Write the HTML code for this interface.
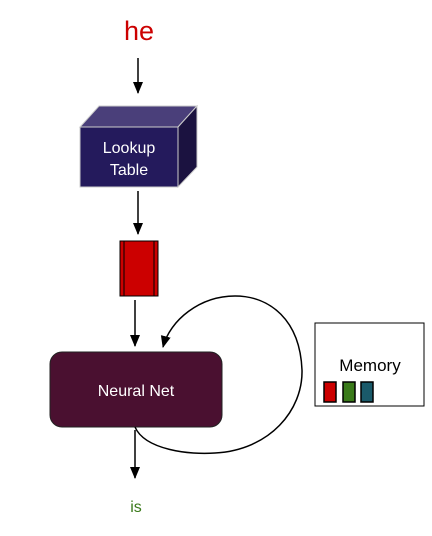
<!DOCTYPE html>
<html><head><style>
body{margin:0;width:432px;height:531px;background:#fff;overflow:hidden}
</style></head><body>
<svg width="432" height="531" xmlns="http://www.w3.org/2000/svg" font-family="Liberation Sans, sans-serif">
<defs><marker id="a" markerWidth="12" markerHeight="12" refX="11" refY="5" orient="auto" markerUnits="userSpaceOnUse"><path d="M0,0 L12,5 L0,10 Z" fill="#000"/></marker></defs>
<text x="139" y="40" font-size="27" fill="#cc0000" text-anchor="middle">he</text>
<line x1="138" y1="58" x2="138" y2="93" stroke="#000" stroke-width="1.5" marker-end="url(#a)"/>
<polygon points="80,127 99,106 197,106 178,127" fill="#4a3f7a" stroke="#ccc" stroke-width="1"/>
<polygon points="178,127 197,106 197,167 178,187" fill="#1b1240" stroke="#ccc" stroke-width="1"/>
<rect x="80" y="127" width="98" height="60" fill="#241a5c" stroke="#ccc" stroke-width="1"/>
<text x="129" y="153" font-size="16" fill="#fff" text-anchor="middle">Lookup</text>
<text x="129" y="175" font-size="16" fill="#fff" text-anchor="middle">Table</text>
<line x1="138" y1="191" x2="138" y2="234" stroke="#000" stroke-width="1.5" marker-end="url(#a)"/>
<rect x="120" y="241" width="38" height="55" fill="#cc0000" stroke="#000" stroke-width="1"/>
<line x1="124" y1="241" x2="124" y2="296" stroke="#000"/>
<line x1="154" y1="241" x2="154" y2="296" stroke="#000"/>
<line x1="135" y1="300" x2="135" y2="346" stroke="#000" stroke-width="1.5" marker-end="url(#a)"/>
<rect x="50" y="352" width="172" height="75" rx="12" fill="#4a1030" stroke="#222"/>
<text x="136" y="396" font-size="16" fill="#fff" text-anchor="middle">Neural Net</text>
<path d="M135,427 C145,450 190,455 215,453 C270,450 303,410 302,370 C300,320 270,296 235,296 C200,296 170,320 163,347" fill="none" stroke="#000" stroke-width="1.5" marker-end="url(#a)"/>
<line x1="135" y1="430" x2="135" y2="478" stroke="#000" stroke-width="1.5" marker-end="url(#a)"/>
<text x="136" y="512" font-size="16" fill="#3a7a1a" text-anchor="middle">is</text>
<rect x="315" y="323" width="109" height="83" fill="#fff" stroke="#000" stroke-width="1"/>
<text x="370" y="371" font-size="17" fill="#000" text-anchor="middle">Memory</text>
<rect x="324" y="382" width="12" height="20" fill="#cc0000" stroke="#000" stroke-width="1.5"/>
<rect x="343" y="382" width="12" height="20" fill="#3a7a1a" stroke="#000" stroke-width="1.5"/>
<rect x="361" y="382" width="12" height="20" fill="#1a5a6a" stroke="#000" stroke-width="1.5"/>
</svg>
</body></html>
